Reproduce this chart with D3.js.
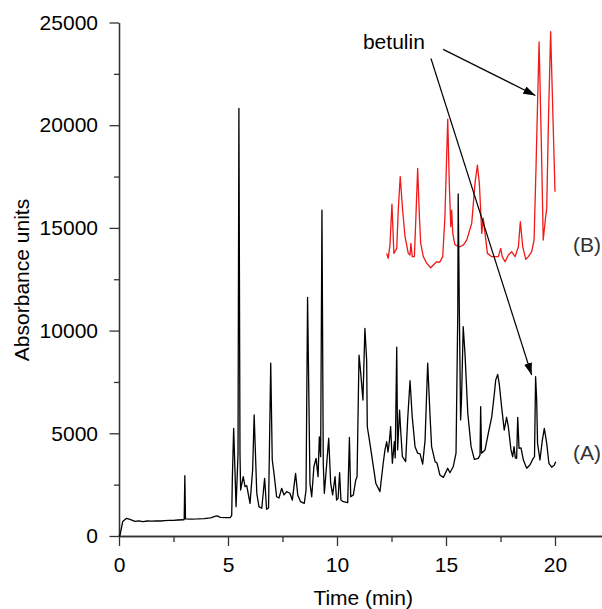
<!DOCTYPE html>
<html lang="en">
<head>
<meta charset="utf-8">
<title>Chromatogram, betulin</title>
<style>
body { margin: 0; background: #fff; }
svg { font-family: "Liberation Sans", Arial, sans-serif; }
.trace { fill: none; stroke-width: 1.3px; stroke-linejoin: round; }
.traceA { stroke: #000; }
.traceB { stroke: #f01818; }
.axis path, .axis line { stroke: #333; stroke-width: 1.3px; }
.axis text { font-size: 21px; fill: #000; }
.label { font-size: 21px; fill: #000; }
.tag { font-size: 21px; fill: #333; }
.arrow { stroke: #000; stroke-width: 1.2px; }
</style>
<script src="https://d3js.org/d3.v7.min.js"></script>
</head>
<body>
<script>

// trace (A), time in min / absorbance units
var timeA = [0, 0.05, 0.17, 0.35, 0.5, 0.73, 0.9, 1.1, 1.3, 1.5, 1.7, 1.9, 2.1, 2.3, 2.5, 2.7, 2.95,
  2.99, 3.02, 3.05, 3.3, 3.6, 3.9, 4.2, 4.4, 4.5, 4.65, 4.9, 5.1, 5.17, 5.2, 5.26, 5.37, 5.46, 5.5, 5.55,
  5.58, 5.7, 5.78, 5.86, 6.01, 6.13, 6.2, 6.32, 6.42, 6.55, 6.68, 6.77, 6.86, 6.96, 7.03, 7.11, 7.23,
  7.34, 7.46, 7.57, 7.69, 7.84, 7.95, 8.1, 8.2, 8.33, 8.5, 8.58, 8.65, 8.76, 8.84, 8.94, 9.04, 9.13,
  9.19, 9.25, 9.31, 9.37, 9.42, 9.53, 9.62, 9.71, 9.8, 9.91, 9.98, 10.05, 10.12, 10.18, 10.29, 10.49,
  10.57, 10.63, 10.75, 10.86, 10.92, 11.01, 11.09, 11.19, 11.28, 11.36, 11.39, 11.51, 11.67, 11.78,
  11.97, 12.12, 12.2, 12.28, 12.34, 12.4, 12.46, 12.54, 12.63, 12.67, 12.74, 12.78, 12.87, 12.92, 13.0,
  13.15, 13.24, 13.35, 13.45, 13.58, 13.7, 13.81, 13.93, 14.04, 14.16, 14.27, 14.34, 14.5, 14.59, 14.72,
  14.88, 15.08, 15.18, 15.33, 15.46, 15.54, 15.56, 15.61, 15.67, 15.71, 15.79, 15.87, 16.0, 16.15, 16.3,
  16.48, 16.56, 16.59, 16.63, 16.79, 16.94, 17.1, 17.22, 17.28, 17.37, 17.44, 17.55, 17.67, 17.78, 17.86,
  17.98, 18.06, 18.12, 18.18, 18.24, 18.29, 18.35, 18.44, 18.55, 18.7, 18.85, 19.0, 19.06, 19.11, 19.16,
  19.2, 19.31, 19.42, 19.51, 19.62, 19.72, 19.85, 19.97, 20.03];
var absA = [0, 50, 700, 860, 810, 715, 740, 700, 730, 720, 740, 730, 750, 760, 760, 780, 790,
  800, 2935, 830, 820, 830, 850, 880, 960, 975, 910, 890, 900, 1000, 2820, 5240, 1430, 4000, 20820, 4000,
  2240, 2890, 2400, 2450, 1590, 3210, 5890, 2080, 1430, 1350, 2810, 1300, 1360, 8410, 3700, 3050, 1910,
  1850, 2320, 2000, 2160, 2080, 1750, 3050, 2000, 1670, 1590, 2240, 11620, 2565, 1910, 3370, 3780, 2890,
  4830, 3860, 15870, 3540, 2080, 3540, 4760, 2570, 2000, 2890, 1750, 1835, 3080, 1750, 1670, 1620,
  4800, 1910, 2000, 2730, 2890, 8810, 7920, 6620, 10110, 8570, 5320, 4510, 3370, 2570,
  2160, 3540, 4190, 4590, 4090, 4590, 5320, 3540, 4590, 3800, 9190, 4190, 6130, 5160, 3860,
  3620, 5650, 7560, 5810, 4350, 4030, 4000, 3500, 4670, 8410, 5810, 4350, 3620, 3550, 2970,
  2855, 3300, 3080, 3370, 4030, 10840, 16650, 11160, 5650, 6600, 10190, 8890, 5970, 4350, 3730,
  3780, 3940, 6300, 4030, 4190, 5000, 5810, 6950, 7590, 7870, 7430, 6300, 5160, 5780, 5320,
  4190, 3860, 4350, 3800, 3780, 5780, 4270, 4290, 3700, 3300, 3460, 3780, 3850, 7760, 6620,
  4510, 3700, 4670, 5240, 4510, 3540, 3350, 3460, 3620];

// trace (B)
var timeB = [12.28, 12.35, 12.43, 12.52, 12.61, 12.74, 12.81, 12.9, 13.01, 13.12, 13.27, 13.35, 13.39,
  13.45, 13.55, 13.62, 13.7, 13.78, 13.84, 13.96, 14.12, 14.3, 14.42, 14.57, 14.72, 14.85, 14.95, 15.08,
  15.15, 15.22, 15.26, 15.31, 15.41, 15.64, 15.8, 15.95, 16.18, 16.33, 16.44, 16.53, 16.64, 16.71, 16.79,
  16.9, 17.1, 17.25, 17.4, 17.51, 17.58, 17.71, 17.86, 18.01, 18.17, 18.32, 18.41, 18.52, 18.66, 18.78,
  18.93, 19.04, 19.13, 19.27, 19.38, 19.46, 19.57, 19.62, 19.7, 19.8, 19.91, 20.0];
var absB = [13760, 13520, 14170, 16160, 13760, 14000, 15870, 17490, 15870, 14570, 13760, 13680, 14250,
  13600, 13600, 15540, 17900, 15540, 14250, 13600, 13270, 13060, 13190, 13350, 13340, 13600, 15540, 20300,
  17170, 15060, 15870, 14730, 14170, 14080, 14170, 14410, 15220, 17170, 18060, 17170, 14730, 15470, 14730,
  13760, 13600, 13600, 13600, 14000, 13600, 13350, 13680, 13840, 13600, 14080, 15300, 14080, 13470, 13600,
  13840, 14410, 17980, 24060, 18790, 14410, 15540, 15950, 20250, 24550, 20250, 16760];

var xTicks = [0, 5, 10, 15, 20];
var xMinor = [2.5, 7.5, 12.5, 17.5];
var yTicks = [0, 5000, 10000, 15000, 20000, 25000];
var yMinor = [2500, 7500, 12500, 17500, 22500];

// annotation: [t0, v0, t1, v1]
var arrows = [[14.87, 23690, 19.1, 21450], [14.31, 23250, 18.93, 7840]];
var notes = [{ text: "betulin", t: 12.61, v: 24070, cls: "label" },
             { text: "(A)", t: 20.83, v: 4040, cls: "tag" },
             { text: "(B)", t: 20.83, v: 14170, cls: "tag" }];

var margin = { top: 22.5, right: 0, bottom: 73, left: 119 },
    width = 602 - margin.left - margin.right,
    height = 609 - margin.top - margin.bottom;

var x = d3.scaleLinear().domain([0, width / 21.8]).range([0, width]);
var y = d3.scaleLinear().domain([0, 25000]).range([height, 0]);

var svg = d3.select("body").append("svg")
    .attr("width", 602)
    .attr("height", 609);

svg.append("defs").append("marker")
    .attr("id", "head")
    .attr("viewBox", "0 0 12 8")
    .attr("refX", 12).attr("refY", 4)
    .attr("markerWidth", 12).attr("markerHeight", 8)
    .attr("markerUnits", "userSpaceOnUse")
    .attr("orient", "auto")
  .append("path")
    .attr("d", "M0,0L12,4L0,8Z")
    .attr("fill", "#000");

var g = svg.append("g")
    .attr("transform", "translate(" + margin.left + "," + margin.top + ")");

// minor ticks first, major axes on top
g.append("g")
    .attr("class", "axis")
    .attr("transform", "translate(0," + height + ")")
    .call(d3.axisBottom(x).tickValues(xMinor).tickSize(6).tickSizeOuter(0).tickFormat(""));
g.append("g")
    .attr("class", "axis")
    .attr("transform", "translate(0," + height + ")")
    .call(d3.axisBottom(x).tickValues(xTicks).tickSize(10).tickSizeOuter(0).tickPadding(11));

g.append("g")
    .attr("class", "axis")
    .call(d3.axisLeft(y).tickValues(yMinor).tickSize(5).tickSizeOuter(0).tickFormat(""));
g.append("g")
    .attr("class", "axis")
    .call(d3.axisLeft(y).tickValues(yTicks).tickSize(9.5).tickSizeOuter(0).tickPadding(11.5)
      .tickFormat(d3.format("d")));

var line = d3.line()
    .x(function(d) { return x(d[0]); })
    .y(function(d) { return y(d[1]); });

g.append("path")
    .datum(d3.zip(timeB, absB))
    .attr("class", "trace traceB")
    .attr("d", line);

g.append("path")
    .datum(d3.zip(timeA, absA))
    .attr("class", "trace traceA")
    .attr("d", line);

g.selectAll(".arrow")
    .data(arrows)
  .enter().append("line")
    .attr("class", "arrow")
    .attr("x1", function(d) { return x(d[0]); })
    .attr("y1", function(d) { return y(d[1]); })
    .attr("x2", function(d) { return x(d[2]); })
    .attr("y2", function(d) { return y(d[3]); })
    .attr("marker-end", "url(#head)");

g.selectAll(".note")
    .data(notes)
  .enter().append("text")
    .attr("class", function(d) { return d.cls; })
    .attr("x", function(d) { return x(d.t); })
    .attr("y", function(d) { return y(d.v); })
    .attr("dy", "0.35em")
    .attr("text-anchor", function(d) { return d.text == "betulin" ? "middle" : "start"; })
    .text(function(d) { return d.text; });

svg.append("text")
    .attr("class", "label")
    .attr("x", margin.left + x(11.2))
    .attr("y", 605)
    .style("text-anchor", "middle")
    .text("Time (min)");

svg.append("text")
    .attr("class", "label")
    .attr("transform", "rotate(-90)")
    .attr("x", -280)
    .attr("y", 29)
    .style("text-anchor", "middle")
    .text("Absorbance units");

</script>
</body>
</html>
